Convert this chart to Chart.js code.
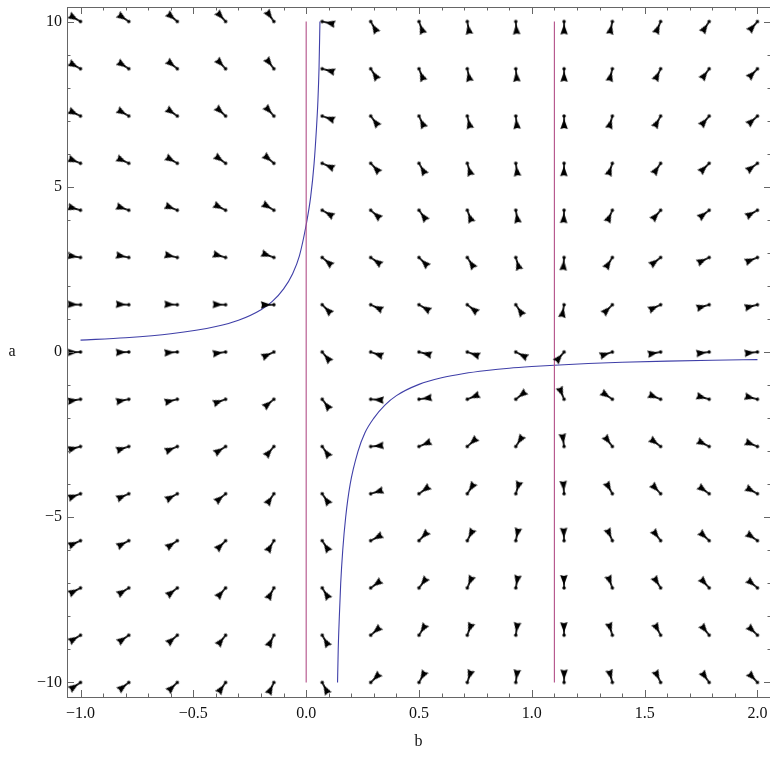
<!DOCTYPE html>
<html>
<head>
<meta charset="utf-8">
<script src="https://cdn.jsdelivr.net/npm/chart.js@4.4.0/dist/chart.umd.min.js"></script>
<style>
  html, body { margin: 0; padding: 0; background: #fff; overflow: hidden; }
  #wrap { width: 781px; height: 757px; }
</style>
</head>
<body>
<div id="wrap"><canvas id="field" width="781" height="757"></canvas></div>
<script>
// grid of the vector field (b across, a down the rows)
const bValues = [-1, -0.786, -0.571, -0.357, -0.143, 0.071, 0.286, 0.5, 0.714, 0.929, 1.143, 1.357, 1.571, 1.786, 2];
const aValues = [10, 8.57, 7.14, 5.71, 4.29, 2.86, 1.43, 0, -1.43, -2.86, -4.29, -5.71, -7.14, -8.57, -10];

// arrow direction on screen, degrees counter-clockwise from +b, one row per aValues entry
const arrowAngles = [
  [150, 146, 140, 132, 125, -12, -60, -70, -80, -86, -90, -102, -113, -123, -131],
  [151, 147, 141, 133, 127, -15, -57, -68, -78, -85, -90, -104, -116, -126, -134],
  [154, 150, 145, 137, 132, -19, -53, -65, -76, -84, -90, -106, -119, -130, -138],
  [158, 155, 150, 144, 140, -24, -47, -60, -73, -82, -91, -109, -124, -135, -143],
  [164, 161, 158, 153, 149, -30, -41, -54, -69, -80, -92, -114, -131, -142, -150],
  [171, 169, 167, 164, 160, -40, -35, -45, -57, -73, -94, -122, -142, -154, -158],
  [178, 178, 178, 179, 181, -45, -25, -30, -38, -56, -100, -135, -155, -164, -166],
  [182, 182, 184, 188, 205, -50, -19, -14, -19, -27, -130, -162, -170, -173, -174],
  [189, 191, 194, 200, 220, -53, -4, 8, 22, 38, 112, 146, 158, 164, 166],
  [195, 198, 203, 213, 230, -55, 5, 23, 42, 57, 98, 127, 143, 153, 158],
  [200, 204, 209, 220, 236, -56, 17, 36, 57, 73, 94, 119, 133, 144, 151],
  [204, 208, 214, 225, 239, -57, 28, 46, 63, 78, 92, 114, 127, 137, 145],
  [208, 212, 218, 229, 241, -58, 36, 53, 67, 80, 91, 110, 122, 132, 140],
  [211, 215, 221, 232, 243, -60, 41, 58, 70, 82, 91, 107, 118, 128, 136],
  [214, 218, 224, 235, 244, -62, 45, 61, 72, 83, 90, 105, 116, 125, 133]
];

// vertical nullclines b = const
const verticalB = [0, 1.1];
const verticalA = [-10, 10];

// hyperbola nullcline, two branches
const upperB = [-1.0, -0.8, -0.6, -0.4, -0.3, -0.2, -0.15, -0.1, -0.06, -0.03, 0.0, 0.02, 0.035, 0.045, 0.052, 0.057, 0.061];
const upperA = [0.36, 0.43, 0.55, 0.77, 0.96, 1.28, 1.53, 1.91, 2.37, 2.91, 3.85, 4.7, 5.7, 6.7, 7.6, 8.6, 10.0];
const lowerB = [0.139, 0.142, 0.147, 0.153, 0.162, 0.175, 0.195, 0.23, 0.26, 0.3, 0.35, 0.4, 0.5, 0.6, 0.7, 0.8, 0.9, 1.0, 1.1, 1.25, 1.4, 1.6, 1.8, 2.0];
const lowerA = [-10, -9, -8, -7, -6, -5, -4, -3, -2.45, -2.0, -1.6, -1.32, -0.98, -0.78, -0.65, -0.56, -0.49, -0.44, -0.4, -0.35, -0.31, -0.275, -0.25, -0.23];

// axis ticks
const xTickValues = [-1, -0.5, 0, 0.5, 1, 1.5, 2];
const xTickLabels = ['\u22121.0', '\u22120.5', '0.0', '0.5', '1.0', '1.5', '2.0'];
const yTickValues = [10, 5, 0, -5, -10];
const yTickLabels = ['10', '5', '0', '\u22125', '\u221210'];

const pink = '#b24f88';
const blue = '#3f3fa8';
const serif = '"Liberation Serif", "Times New Roman", serif';

// little dart: dot at the centre, wedge widening out to the right
function makeArrow() {
  const c = document.createElement('canvas');
  c.width = 34;
  c.height = 14;
  const g = c.getContext('2d');
  const cx = 17, cy = 7;
  g.fillStyle = '#000';
  g.strokeStyle = '#000';
  g.beginPath();
  g.arc(cx, cy, 1.7, 0, Math.PI * 2);
  g.fill();
  g.lineWidth = 1.6;
  g.beginPath();
  g.moveTo(cx, cy);
  g.lineTo(cx + 6, cy);
  g.stroke();
  g.beginPath();
  g.moveTo(cx + 2.5, cy);
  g.lineTo(cx + 13, cy - 3.7);
  g.lineTo(cx + 12, cy);
  g.lineTo(cx + 13, cy + 3.7);
  g.closePath();
  g.fill();
  return c;
}

const arrowPoints = [];
const arrowRotation = [];
aValues.forEach((a, j) => {
  bValues.forEach((b, i) => {
    arrowPoints.push({ x: b, y: a });
    arrowRotation.push(-arrowAngles[j][i]);
  });
});

function zipPoints(xs, ys) {
  return xs.map((x, k) => ({ x: x, y: ys[k] }));
}

const lineBase = { type: 'line', pointRadius: 0, borderWidth: 1.1, fill: false, showLine: true };

const datasets = [
  { label: 'field', data: arrowPoints, pointStyle: makeArrow(), pointRotation: arrowRotation, pointRadius: 6, pointHoverRadius: 6 }
];
verticalB.forEach(b => {
  datasets.push(Object.assign({}, lineBase, {
    label: 'b = ' + b, data: zipPoints([b, b], verticalA), borderColor: pink
  }));
});
datasets.push(Object.assign({}, lineBase, {
  label: 'upper', data: zipPoints(upperB, upperA), borderColor: blue, cubicInterpolationMode: 'monotone'
}));
datasets.push(Object.assign({}, lineBase, {
  label: 'lower', data: zipPoints(lowerB, lowerA), borderColor: blue, cubicInterpolationMode: 'monotone'
}));

// Mathematica-style frame with inward ticks on all four sides
const frameAxes = {
  id: 'frameAxes',
  afterDraw(chart) {
    const { ctx, chartArea, scales } = chart;
    const { left, right, top, bottom } = chartArea;
    const x = scales.x, y = scales.y;
    ctx.save();
    ctx.strokeStyle = '#666';
    ctx.lineWidth = 1;
    ctx.strokeRect(left + 0.5, top + 0.5, right - left, bottom - top);

    ctx.beginPath();
    for (let k = -10; k <= 20; k++) {
      const px = Math.round(x.getPixelForValue(k / 10)) + 0.5;
      const len = k % 5 === 0 ? 7 : 3.5;
      ctx.moveTo(px, bottom);
      ctx.lineTo(px, bottom - len);
      ctx.moveTo(px, top);
      ctx.lineTo(px, top + len);
    }
    for (let k = -10; k <= 10; k++) {
      const py = Math.round(y.getPixelForValue(k)) + 0.5;
      const len = k % 5 === 0 ? 7 : 3.5;
      ctx.moveTo(left, py);
      ctx.lineTo(left + len, py);
      ctx.moveTo(right, py);
      ctx.lineTo(right - len, py);
    }
    ctx.stroke();

    ctx.fillStyle = '#111';
    ctx.font = '16px ' + serif;
    ctx.textAlign = 'center';
    ctx.textBaseline = 'top';
    xTickValues.forEach((v, k) => {
      ctx.fillText(xTickLabels[k], x.getPixelForValue(v), bottom + 9);
    });
    ctx.textAlign = 'right';
    ctx.textBaseline = 'middle';
    yTickValues.forEach((v, k) => {
      ctx.fillText(yTickLabels[k], left - 5, y.getPixelForValue(v));
    });

    ctx.textAlign = 'center';
    ctx.fillText('b', (left + 770) / 2, bottom + 45);
    ctx.fillText('a', 12, y.getPixelForValue(0));
    ctx.restore();
  }
};

new Chart(document.getElementById('field'), {
  type: 'scatter',
  data: { datasets: datasets },
  options: {
    responsive: false,
    animation: false,
    devicePixelRatio: 1,
    events: [],
    layout: { padding: { left: 67, top: 6, right: 10, bottom: 60 } },
    scales: {
      x: { type: 'linear', min: -1.06, max: 2.06, display: false },
      y: { type: 'linear', min: -10.44, max: 10.44, display: false }
    },
    plugins: { legend: { display: false }, tooltip: { enabled: false } }
  },
  plugins: [frameAxes]
});
</script>
</body>
</html>
